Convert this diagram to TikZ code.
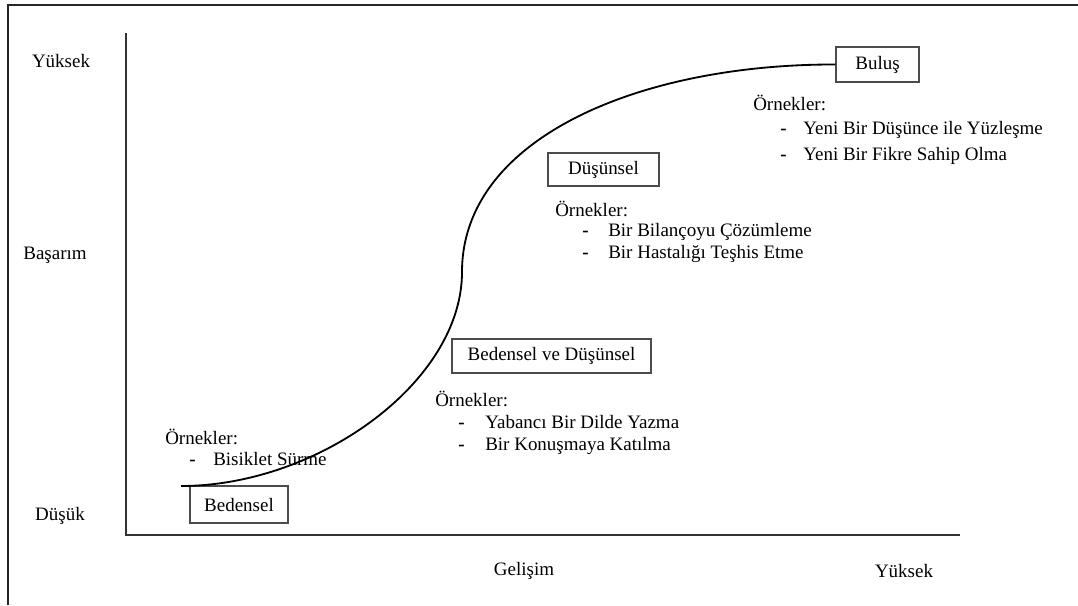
\documentclass[tikz,border=0pt]{standalone}
\usepackage{fontspec}
\setmainfont{Liberation Serif}
\begin{document}
\begin{tikzpicture}[x=0.025cm,y=-0.025cm,
  every node/.style={font=\fontsize{13.5}{16}\selectfont, inner sep=0pt, text=black},
  stagebox/.style={draw=black!70, line width=0.8pt, fill=white},
  axisline/.style={draw=black!80, line width=1.4pt},
  frameline/.style={draw=black!85, line width=1.5pt},
  lbl/.style={anchor=base west},
  item/.style={anchor=base west},
  dashmark/.style={anchor=base west, font=\fontsize{13.5}{16}\selectfont\bfseries}
]
\useasboundingbox (0,0) rectangle (1078,605);

% outer frame (left and top edges)
\draw[frameline] (8,605) -- (8,5) -- (1078,5);

% axes
\coordinate (ytop) at (126,33);
\coordinate (origin) at (126,535);
\coordinate (xend) at (960,535);
\draw[axisline] (ytop) -- (origin) -- (xend);

% axis labels
\node (yhigh) at (61,61) {Yüksek};
\node (ymid) at (55,255) {Başarım};
\node (ylow) at (60,516) {Düşük};
\node (xmid) at (524,571) {Gelişim};
\node (xhigh) at (904,571) {Yüksek};

% stage boxes
\node[stagebox, minimum width=2.45cm, minimum height=0.925cm] (bed) at (239,504.5) {Bedensel};
\node[stagebox, minimum width=4.975cm, minimum height=0.85cm] (beddus) at (551.5,356) {Bedensel ve Düşünsel};
\node[stagebox, minimum width=2.775cm, minimum height=0.825cm] (dus) at (603.5,169.5) {Düşünsel};
\node[stagebox, minimum width=2.075cm, minimum height=0.875cm] (bul) at (877.5,64.5) {Buluş};

% S-shaped growth curve
\coordinate (cstart) at (181,486);
\coordinate (cmid) at (462,272);
\draw[line width=1.3pt, black]
  (cstart) .. controls (318,486) and (462,382) .. (cmid)
           .. controls (462,138) and (640,64) .. (bul.west);

% examples: Bedensel
\node[lbl] (ex1) at (165,444) {Örnekler:};
\node[dashmark] (d11) at (189,465) {-};
\node[item] (i11) at (213,465) {Bisiklet Sürme};

% examples: Bedensel ve Düşünsel
\node[lbl] (ex2) at (435,406) {Örnekler:};
\node[dashmark] (d21) at (458,428) {-};
\node[item] (i21) at (485,428) {Yabancı Bir Dilde Yazma};
\node[dashmark] (d22) at (458,450) {-};
\node[item] (i22) at (485,450) {Bir Konuşmaya Katılma};

% examples: Düşünsel
\node[lbl] (ex3) at (555,216) {Örnekler:};
\node[dashmark] (d31) at (582,236) {-};
\node[item] (i31) at (608,236) {Bir Bilançoyu Çözümleme};
\node[dashmark] (d32) at (582,258) {-};
\node[item] (i32) at (608,258) {Bir Hastalığı Teşhis Etme};

% examples: Buluş
\node[lbl] (ex4) at (753,110) {Örnekler:};
\node[dashmark] (d41) at (780,134) {-};
\node[item] (i41) at (803,134) {Yeni Bir Düşünce ile Yüzleşme};
\node[dashmark] (d42) at (780,160) {-};
\node[item] (i42) at (803,160) {Yeni Bir Fikre Sahip Olma};
\end{tikzpicture}
\end{document}
